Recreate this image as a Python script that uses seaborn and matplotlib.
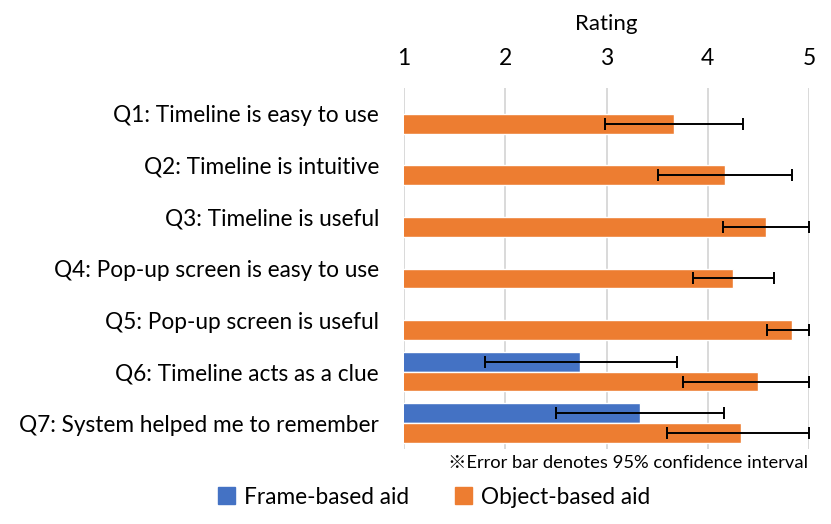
import matplotlib
matplotlib.use('Agg')

import numpy as np
import pandas as pd
import matplotlib.pyplot as plt
import seaborn as sns

# --------------------------------------------------------------------------- #
# DATA
# --------------------------------------------------------------------------- #
QUESTIONS = [
    "Q1: Timeline is easy to use",
    "Q2: Timeline is intuitive",
    "Q3: Timeline is useful",
    "Q4: Pop-up screen is easy to use",
    "Q5: Pop-up screen is useful",
    "Q6: Timeline acts as a clue",
    "Q7: System helped me to remember",
]
GROUPS = ["Frame-based aid", "Object-based aid"]

frame_mean = [np.nan, np.nan, np.nan, np.nan, np.nan, 2.74, 3.33]
frame_lo = [np.nan, np.nan, np.nan, np.nan, np.nan, 1.80, 2.50]
frame_hi = [np.nan, np.nan, np.nan, np.nan, np.nan, 3.70, 4.16]

object_mean = [3.67, 4.17, 4.58, 4.25, 4.83, 4.50, 4.33]
object_lo = [2.99, 3.51, 4.15, 3.85, 4.59, 3.76, 3.60]
object_hi = [4.35, 4.83, 5.00, 4.65, 5.00, 5.00, 5.00]

x_ticks = [1, 2, 3, 4, 5]

COLORS = {"Frame-based aid": "#4472C4", "Object-based aid": "#ED7D31"}
FONT = ["Lato", "Noto Sans CJK JP", "DejaVu Sans"]

df = pd.DataFrame({
    "question": QUESTIONS * 2,
    "group": [GROUPS[0]] * len(QUESTIONS) + [GROUPS[1]] * len(QUESTIONS),
    "rating": frame_mean + object_mean,
    "lo": frame_lo + object_lo,
    "hi": frame_hi + object_hi,
})

# --------------------------------------------------------------------------- #
# PLOT
# --------------------------------------------------------------------------- #
sns.set_style("white")
plt.rcParams['font.family'] = FONT
plt.rcParams['text.color'] = "black"
plt.rcParams['axes.labelcolor'] = "black"
plt.rcParams['xtick.color'] = "black"
plt.rcParams['ytick.color'] = "black"

W, H = 831, 524
fig = plt.figure(figsize=(W / 100, H / 100), dpi=100)
ax = fig.add_axes([404 / W, 1 - 449 / H, (809 - 404) / W, (449 - 88) / H])

BAR_W = 0.77
sns.barplot(data=df, y="question", x="rating", hue="group",
            order=QUESTIONS, hue_order=GROUPS, palette=COLORS,
            saturation=1, orient="h", width=BAR_W, errorbar=None, ax=ax,
            legend=False, zorder=2)

# error bars: 95% CI
for i, g in enumerate(GROUPS):
    sub = df[df["group"] == g]
    offset = (i - 0.5) * BAR_W / 2
    ypos = np.arange(len(QUESTIONS)) + offset
    ok = sub["rating"].notna().values
    m = sub["rating"].values[ok]
    ax.errorbar(m, ypos[ok],
                xerr=[m - sub["lo"].values[ok], sub["hi"].values[ok] - m],
                fmt="none", ecolor="black", elinewidth=1.4,
                capsize=4, capthick=1.4, zorder=3, clip_on=False)

ax.set_xlim(1, 5)
ax.set_ylim(len(QUESTIONS) - 0.5, -0.5)
ax.set_xticks(x_ticks)
ax.xaxis.tick_top()
ax.xaxis.set_label_position("top")
ax.set_xlabel("Rating", fontsize=16, labelpad=13)
ax.set_ylabel("")
ax.tick_params(axis="x", length=0, pad=14, labelsize=16.5)
ax.tick_params(axis="y", length=0, pad=18, labelsize=16.3)
ax.grid(axis="x", color="#D9D9D9", linewidth=1.4, zorder=0)
ax.set_axisbelow(True)
sns.despine(ax=ax, left=True, bottom=True, top=True, right=True)

fig.text(808 / W, 1 - 463 / H, "※Error bar denotes 95% confidence interval",
         ha="right", va="center", fontsize=13.2, family=FONT)

handles = [plt.Rectangle((0, 0), 1, 1, color=COLORS[g]) for g in GROUPS]
fig.legend(handles, GROUPS, loc="center", bbox_to_anchor=(434 / W, 1 - 497 / H),
           ncol=2, frameon=False, fontsize=16.3, handlelength=0.75,
           handleheight=0.75, handletextpad=0.4, columnspacing=2.0)

fig.savefig("out.png", dpi=100)
plt.close(fig)
